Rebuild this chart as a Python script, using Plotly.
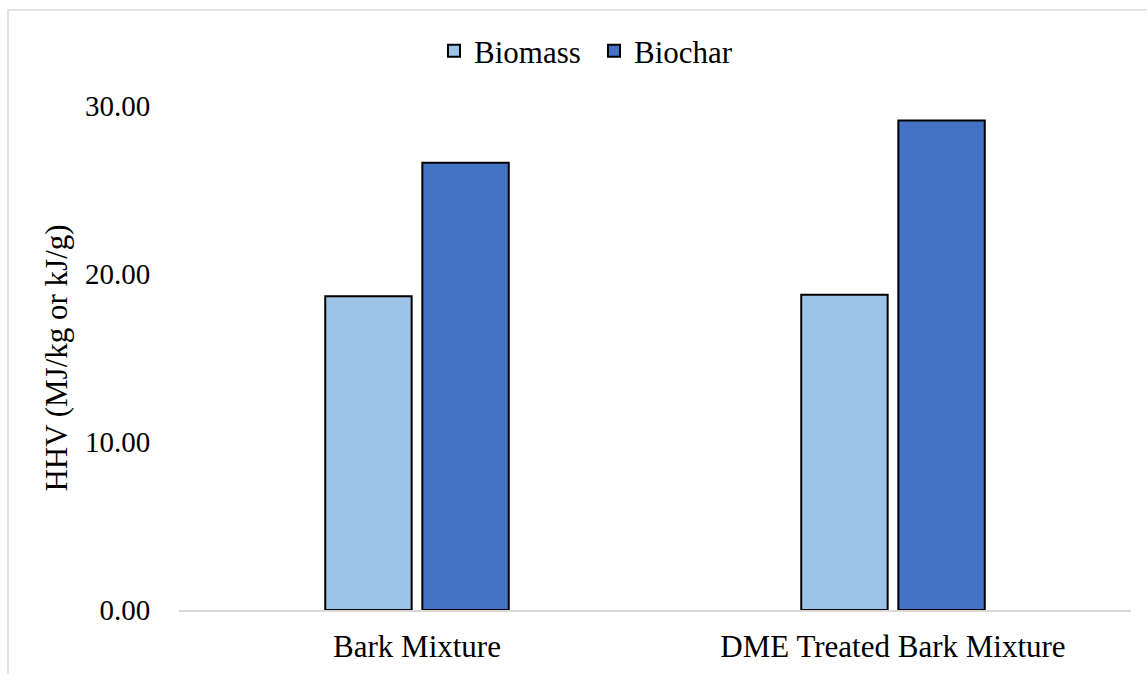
import plotly.graph_objects as go

categories = ["Bark Mixture", "DME Treated Bark Mixture"]
series_names = ["Biomass", "Biochar"]
biomass = [18.67, 18.77]
biochar = [26.62, 29.14]
y_ticks = [0, 10, 20, 30]

colors = ["#9DC3E6", "#4472C4"]
FONT = "Liberation Serif, Times New Roman, serif"

W, H = 1147, 674
L, R, T, B = 179, 16, 106, 64
pw = W - L - R
ph = H - T - B

fig = go.Figure()
for name, vals, col in zip(series_names, [biomass, biochar], colors):
    fig.add_trace(go.Bar(
        x=categories, y=vals, name=name,
        marker=dict(color=col, line=dict(color="#000000", width=2)),
    ))

fig.update_layout(
    width=W, height=H,
    margin=dict(l=L, r=R, t=T, b=B, autoexpand=False),
    paper_bgcolor="white", plot_bgcolor="white",
    barmode="group", bargap=0.592, bargroupgap=0.11,
    font=dict(family=FONT, size=31, color="#000000"),
    showlegend=True,
    legend=dict(
        orientation="h", x=(434 - L) / pw, xanchor="left",
        y=1 + (T - 51) / ph, yanchor="middle",
        font=dict(family=FONT, size=31, color="#000000"),
        itemwidth=30, bgcolor="rgba(0,0,0,0)",
        entrywidth=115, entrywidthmode="pixels",
        traceorder="normal",
    ),
    xaxis=dict(
        showgrid=False, showline=True, linecolor="#D9D9D9", linewidth=1.5,
        ticks="outside", ticklen=8, tickcolor="rgba(0,0,0,0)",
        tickfont=dict(family=FONT, size=31, color="#000000"),
        zeroline=False, fixedrange=True,
    ),
    yaxis=dict(
        range=[0, 30], tickvals=y_ticks, tickformat=".2f",
        showgrid=False, showline=False, zeroline=False,
        ticks="outside", ticklen=22, tickcolor="rgba(0,0,0,0)",
        tickfont=dict(family=FONT, size=29, color="#000000"),
        title=dict(text="HHV (MJ/kg or kJ/g)", standoff=8,
                   font=dict(family=FONT, size=31, color="#000000")),
    ),
    shapes=[dict(
        type="rect", xref="paper", yref="paper",
        x0=(8 - L) / pw, x1=1.2, y0=-0.3, y1=1 + (T - 10) / ph,
        line=dict(color="#D9D9D9", width=1.5), fillcolor="rgba(0,0,0,0)",
        layer="below",
    )],
)

fig.write_html("out.html")
